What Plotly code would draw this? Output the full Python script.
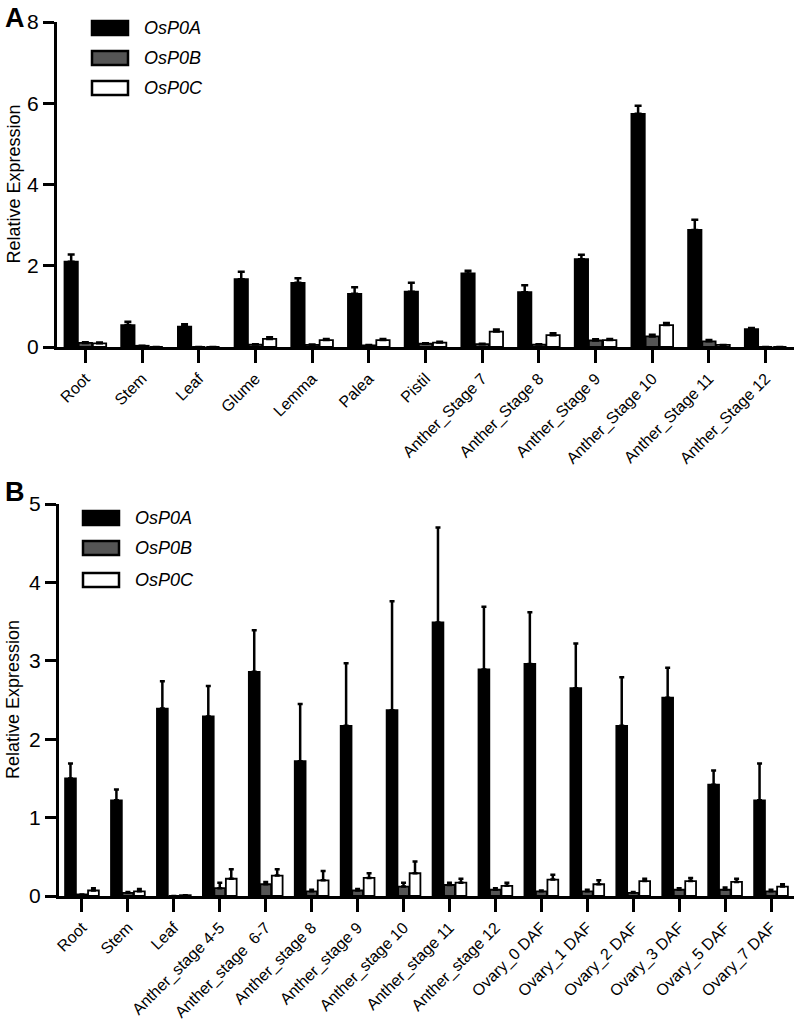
import plotly.graph_objects as go

# ---------------- data ----------------
cats_a = ["Root", "Stem", "Leaf", "Glume", "Lemma", "Palea", "Pistil",
          "Anther_Stage 7", "Anther_Stage 8", "Anther_Stage 9",
          "Anther_Stage 10", "Anther_Stage 11", "Anther_Stage 12"]
a_p0a = [2.10, 0.54, 0.50, 1.67, 1.58, 1.31, 1.36, 1.81, 1.35, 2.16, 5.74, 2.88, 0.44]
a_p0a_err = [0.18, 0.08, 0.06, 0.18, 0.11, 0.16, 0.22, 0.07, 0.17, 0.11, 0.20, 0.25, 0.03]
a_p0b = [0.10, 0.03, 0.00, 0.06, 0.05, 0.04, 0.08, 0.07, 0.06, 0.16, 0.26, 0.14, 0.00]
a_p0b_err = [0.02, 0.00, 0.00, 0.01, 0.01, 0.01, 0.01, 0.01, 0.01, 0.03, 0.04, 0.03, 0.00]
a_p0c = [0.09, 0.00, 0.00, 0.20, 0.17, 0.17, 0.11, 0.38, 0.29, 0.17, 0.54, 0.05, 0.00]
a_p0c_err = [0.02, 0.00, 0.00, 0.04, 0.03, 0.03, 0.02, 0.05, 0.05, 0.03, 0.05, 0.00, 0.00]

cats_b = ["Root", "Stem", "Leaf", "Anther_stage 4-5", "Anther_stage  6-7",
          "Anther_stage 8", "Anther_stage 9", "Anther_stage 10", "Anther_stage 11",
          "Anther_stage 12", "Ovary_0 DAF", "Ovary_1 DAF", "Ovary_2 DAF",
          "Ovary_3 DAF", "Ovary_5 DAF", "Ovary_7 DAF"]
b_p0a = [1.50, 1.22, 2.39, 2.29, 2.86, 1.72, 2.17, 2.37, 3.49, 2.89, 2.96, 2.65, 2.17, 2.53, 1.42, 1.22]
b_p0a_err = [0.19, 0.14, 0.35, 0.39, 0.53, 0.73, 0.80, 1.39, 1.21, 0.80, 0.66, 0.57, 0.62, 0.38, 0.18, 0.47]
b_p0b = [0.02, 0.04, 0.00, 0.10, 0.15, 0.06, 0.07, 0.12, 0.14, 0.08, 0.06, 0.06, 0.04, 0.08, 0.08, 0.06]
b_p0b_err = [0.00, 0.01, 0.00, 0.07, 0.03, 0.02, 0.02, 0.05, 0.03, 0.02, 0.01, 0.02, 0.01, 0.02, 0.03, 0.02]
b_p0c = [0.07, 0.06, 0.01, 0.22, 0.26, 0.20, 0.23, 0.29, 0.17, 0.13, 0.21, 0.15, 0.19, 0.19, 0.18, 0.12]
b_p0c_err = [0.03, 0.03, 0.00, 0.12, 0.08, 0.12, 0.06, 0.15, 0.05, 0.04, 0.06, 0.05, 0.03, 0.04, 0.04, 0.03]

series_names = ["OsP0A", "OsP0B", "OsP0C"]
series_fill = ["#000000", "#555555", "#ffffff"]

# ---------------- figure ----------------
W, H = 798, 1029
FONT = "Arial, Liberation Sans, Helvetica, sans-serif"


def px_x(p):
    return p / W


def px_y(p):
    return 1 - p / H


fig = go.Figure()

panels = [
    ("x", "y", cats_a, [(a_p0a, a_p0a_err), (a_p0b, a_p0b_err), (a_p0c, a_p0c_err)], 3.5),
    ("x2", "y2", cats_b, [(b_p0a, b_p0a_err), (b_p0b, b_p0b_err), (b_p0c, b_p0c_err)], 2.5),
]

for xa, ya, cats, sers, capw in panels:
    for i, (vals, errs) in enumerate(sers):
        fig.add_trace(go.Bar(
            x=cats, y=vals, name=series_names[i], xaxis=xa, yaxis=ya,
            offsetgroup=str(i), showlegend=False,
            marker=dict(color=series_fill[i], line=dict(color="black", width=1.8)),
            error_y=dict(type="data", array=errs, arrayminus=[0] * len(errs),
                         symmetric=False, color="black", thickness=2.5, width=capw),
        ))

axis_common = dict(showline=True, linecolor="black", linewidth=3, ticks="outside",
                   tickcolor="black", tickwidth=3, showgrid=False, zeroline=False,
                   automargin=False,
                   tickfont=dict(family=FONT, size=16, color="black"))

fig.update_layout(
    width=W, height=H, margin=dict(l=0, r=0, t=0, b=0, autoexpand=False),
    paper_bgcolor="white", plot_bgcolor="white",
    barmode="group", bargap=0.25, bargroupgap=0.06,
    font=dict(family=FONT, color="black"),
    xaxis=dict(axis_common, domain=[px_x(57), px_x(794)], anchor="y",
               range=[-0.5, 12.5], tickangle=-45, ticklen=13),
    yaxis=dict(axis_common, domain=[px_y(347), px_y(22)], anchor="x",
               range=[0, 8], tickvals=[0, 2, 4, 6, 8], ticklen=11,
               tickfont=dict(family=FONT, size=21, color="black")),
    xaxis2=dict(axis_common, domain=[px_x(59), px_x(794)], anchor="y2",
                range=[-0.5, 15.5], tickangle=-45, ticklen=13),
    yaxis2=dict(axis_common, domain=[px_y(896), px_y(504)], anchor="x2",
                range=[0, 5], tickvals=[0, 1, 2, 3, 4, 5], ticklen=11,
                tickfont=dict(family=FONT, size=21, color="black")),
)

annotations = []
shapes = []

# y-axis titles
for yc in (184.5, 700):
    annotations.append(dict(text="Relative Expression", x=px_x(13), y=px_y(yc),
                            xref="paper", yref="paper", showarrow=False, textangle=-90,
                            xanchor="center", yanchor="middle",
                            font=dict(family=FONT, size=18, color="black")))

# panel letters
for letter, yc in (("A", 18), ("B", 492)):
    annotations.append(dict(text="<b>%s</b>" % letter, x=px_x(15), y=px_y(yc),
                            xref="paper", yref="paper", showarrow=False,
                            xanchor="center", yanchor="middle",
                            font=dict(family=FONT, size=27, color="black")))

# manual legends
legend_specs = [
    (92, 128, 142, [28, 58, 88]),
    (83, 119, 133, [518, 548, 580]),
]
for x0, x1, xt, rows in legend_specs:
    for i, yc in enumerate(rows):
        shapes.append(dict(type="rect", xref="paper", yref="paper",
                           x0=px_x(x0), x1=px_x(x1), y0=px_y(yc + 7), y1=px_y(yc - 7),
                           fillcolor=series_fill[i], line=dict(color="black", width=2.5)))
        annotations.append(dict(text="<i>%s</i>" % series_names[i], x=px_x(xt), y=px_y(yc),
                                xref="paper", yref="paper", showarrow=False,
                                xanchor="left", yanchor="middle",
                                font=dict(family=FONT, size=18, color="black")))

fig.update_layout(annotations=annotations, shapes=shapes)

# remove the default page margin so the figure sits at the window's top-left corner
fig.write_html("out.html",
               config={"displayModeBar": False},
               post_script="document.body.style.margin='0';"
                           "document.body.style.overflow='hidden';")
